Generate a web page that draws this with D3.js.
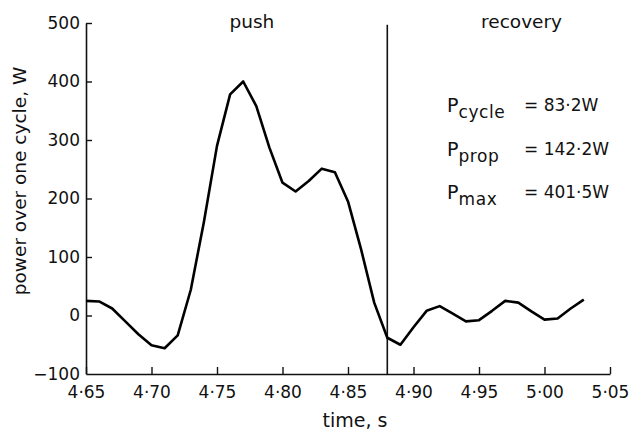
<!DOCTYPE html>
<html>
<head>
<meta charset="utf-8">
<script src="https://cdn.jsdelivr.net/npm/d3@7"></script>
<style>
  body { margin: 0; background: #fff; }
  text { font-family: 'DejaVu Sans', sans-serif; fill: #111; }
</style>
</head>
<body>
<svg id="chart" width="634" height="430"></svg>
<script>
// time, s (sampled every 0.01 s)
const times = [4.65, 4.66, 4.67, 4.68, 4.69, 4.70, 4.71, 4.72, 4.73, 4.74, 4.75, 4.76, 4.77, 4.78,
  4.79, 4.80, 4.81, 4.82, 4.83, 4.84, 4.85, 4.86, 4.87, 4.88, 4.89, 4.90, 4.91, 4.92, 4.93,
  4.94, 4.95, 4.96, 4.97, 4.98, 4.99, 5.00, 5.01, 5.02, 5.03];
// power over one cycle, W
const power = [25, 24, 12, -10, -32, -51, -56, -34, 44, 160, 290, 378, 400, 358,
  287, 227, 212, 230, 251, 245, 195, 113, 22, -38, -50, -20, 8, 16, 3,
  -10, -8, 8, 25, 22, 7, -7, -5, 12, 27];

const xTicks = [4.65, 4.70, 4.75, 4.80, 4.85, 4.90, 4.95, 5.00, 5.05];
const yTicks = [-100, 0, 100, 200, 300, 400, 500];
const phaseSplit = 4.88;
const phases = [
  { label: 'push', at: 4.7766 },
  { label: 'recovery', at: 4.9825 },
];
const summary = [
  { sub: 'cycle', value: '= 83·2W' },
  { sub: 'prop', value: '= 142·2W' },
  { sub: 'max', value: '= 401·5W' },
];

const svg = d3.select('#chart');
const margin = { top: 23, right: 24, bottom: 56, left: 86 };
const width = 634;
const height = 430;

const x = d3.scaleLinear()
  .domain([4.65, 5.05])
  .range([margin.left, width - margin.right]);

const y = d3.scaleLinear()
  .domain([-100, 500])
  .range([height - margin.bottom, margin.top]);

const dot = (v) => d3.format('.2f')(v).replace('.', '·');

// x axis, ticks pointing up
const gx = svg.append('g')
  .attr('transform', `translate(0,${y(-100)})`)
  .call(d3.axisBottom(x).tickValues(xTicks).tickSize(-7).tickSizeOuter(0).tickPadding(12).tickFormat(dot));
gx.select('.domain').attr('stroke', '#111').attr('stroke-width', 1.6);
gx.selectAll('.tick line').attr('stroke', '#111').attr('stroke-width', 1.4);
gx.selectAll('.tick text').attr('font-size', 17).style('font-family', "'DejaVu Sans', sans-serif").attr('fill', '#111');

// y axis, ticks pointing right
const gy = svg.append('g')
  .attr('transform', `translate(${x(4.65)},0)`)
  .call(d3.axisLeft(y).tickValues(yTicks).tickSize(-6).tickSizeOuter(0).tickPadding(6));
gy.select('.domain').attr('stroke', '#111').attr('stroke-width', 1.6);
gy.selectAll('.tick line').attr('stroke', '#111').attr('stroke-width', 1.4);
gy.selectAll('.tick text').attr('font-size', 17).style('font-family', "'DejaVu Sans', sans-serif").attr('fill', '#111');
gy.selectAll('.tick').filter((d) => d === -100).select('line').remove();

// push / recovery divider
svg.append('line')
  .attr('x1', x(phaseSplit))
  .attr('x2', x(phaseSplit))
  .attr('y1', y(497))
  .attr('y2', y(-100))
  .attr('stroke', '#111')
  .attr('stroke-width', 1.6);

svg.selectAll('.phase')
  .data(phases)
  .enter()
  .append('text')
  .attr('class', 'phase')
  .attr('x', (d) => x(d.at))
  .attr('y', 28)
  .attr('text-anchor', 'middle')
  .attr('font-size', 18.5)
  .text((d) => d.label);

// the power curve
const line = d3.line()
  .x((d, i) => x(times[i]))
  .y((d) => y(d));

svg.append('path')
  .datum(power)
  .attr('fill', 'none')
  .attr('stroke', '#000')
  .attr('stroke-width', 2.6)
  .attr('stroke-linejoin', 'round')
  .attr('d', line);

// summary values
const rows = svg.selectAll('.summary')
  .data(summary)
  .enter()
  .append('g')
  .attr('class', 'summary')
  .attr('transform', (d, i) => `translate(447,${112 + i * 43.5})`);

rows.append('text')
  .attr('font-size', 19)
  .text('P')
  .append('tspan')
  .attr('dy', 6)
  .attr('font-size', 17)
  .attr('letter-spacing', 0.6)
  .text((d) => d.sub);

rows.append('text')
  .attr('x', 77)
  .attr('y', -1)
  .attr('font-size', 17)
  .text((d) => d.value);

// axis titles
svg.append('text')
  .attr('x', 355)
  .attr('y', 427)
  .attr('text-anchor', 'middle')
  .attr('font-size', 19)
  .text('time, s');

svg.append('text')
  .attr('transform', 'rotate(-90)')
  .attr('x', -181)
  .attr('y', 26)
  .attr('text-anchor', 'middle')
  .attr('font-size', 18.5)
  .text('power over one cycle, W');
</script>
</body>
</html>
